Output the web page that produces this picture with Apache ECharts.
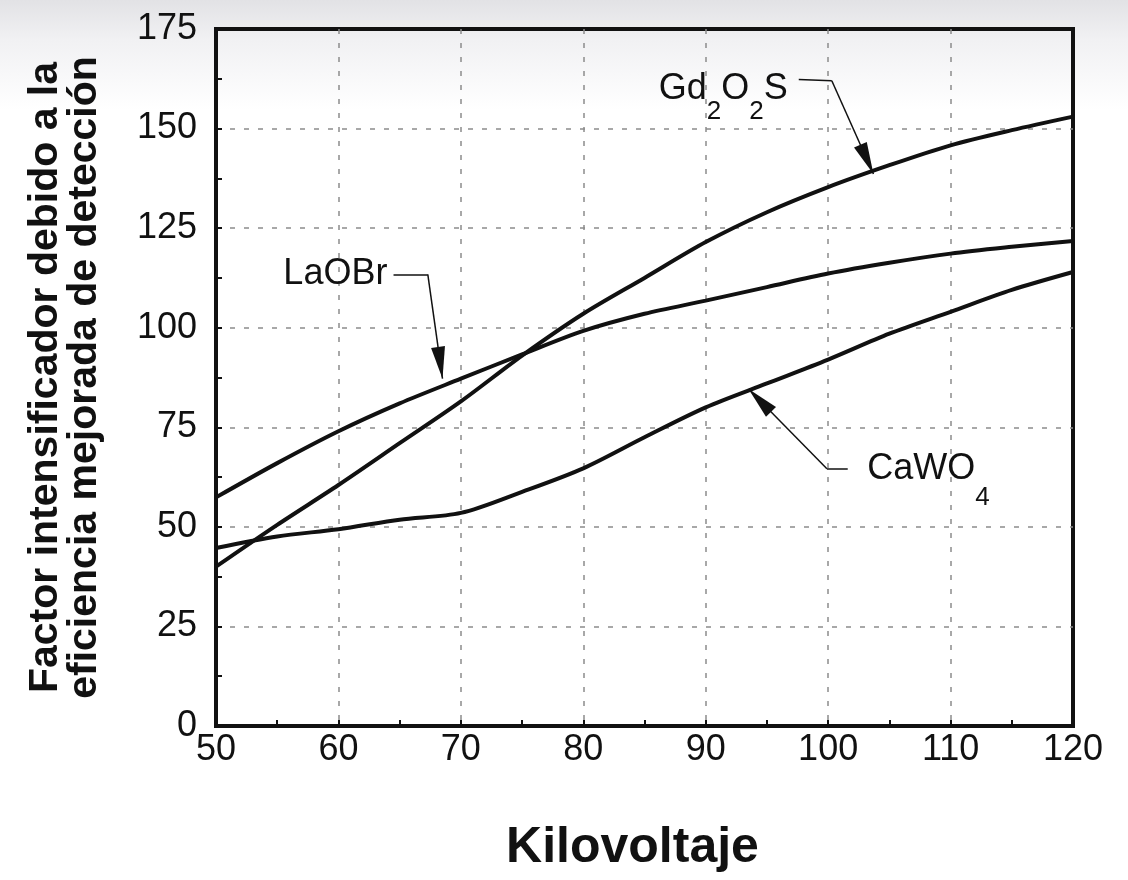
<!DOCTYPE html>
<html>
<head>
<meta charset="utf-8">
<script src="https://cdn.jsdelivr.net/npm/echarts@6/dist/echarts.min.js"></script>
<style>
html,body{margin:0;padding:0;}
body{width:1128px;height:880px;background:linear-gradient(#e2e2e5 0px,#f1f1f3 40px,#ffffff 110px,#ffffff 880px);}
#c{width:1128px;height:880px;}
</style>
</head>
<body>
<div id="c"></div>
<script>
// Kilovoltaje (kVp)
const kv = [50, 55, 60, 65, 70, 75, 80, 85, 90, 95, 100, 105, 110, 115, 120];
// Factor intensificador
const gd2o2s = [40, 50.5, 60.5, 71, 81.5, 93, 103.5, 112.5, 121.5, 129, 135.3, 140.8, 145.8, 149.6, 153];
const laobr  = [57.4, 66, 74, 81, 87.2, 93.3, 99.2, 103.5, 106.8, 110.2, 113.6, 116.3, 118.6, 120.3, 121.8];
const cawo4  = [44.7, 47.6, 49.4, 51.8, 53.5, 58.8, 64.7, 72.5, 80, 86, 92, 98.5, 104, 109.5, 114];
const xTicks = [50, 60, 70, 80, 90, 100, 110, 120];
const yTicks = [0, 25, 50, 75, 100, 125, 150, 175];

// annotation leaders (data coords): start, elbow, arrow tip
const gdLeader = [[97.6, 162.3], [100.3, 162.0], [103.7, 138.6]];
const laLeader = [[64.5, 113.4], [67.3, 113.4], [68.5, 87.2]];
const caLeader = [[101.6, 64.6], [99.9, 64.6], [93.5, 84.6]];
// label anchors
const gdLabelAt = [96.7, 159.8];
const laLabelAt = [64.0, 113.4];
const caLabelAt = [103.2, 64.4];

const FONT = "'Liberation Sans', Arial, Helvetica, sans-serif";
const ink = '#111';

function leader(pts) {
  return {
    silent: true,
    animation: false,
    symbol: ['none', 'none'],
    lineStyle: { color: ink, width: 1.5, type: 'solid' },
    label: { show: false },
    emphasis: { disabled: true },
    data: [
      [{ coord: pts[0] }, { coord: pts[1] }],
      [{ coord: pts[1] }, { coord: pts[2], symbol: 'triangle', symbolSize: [14, 32], symbolOffset: [0, 16] }]
    ]
  };
}
function tag(at, pos, text, rich) {
  return {
    silent: true,
    animation: false,
    symbol: 'circle',
    symbolSize: 0,
    itemStyle: { color: 'rgba(0,0,0,0)' },
    data: [{
      coord: at,
      label: {
        show: true, position: pos, distance: 0,
        formatter: text,
        color: ink, fontFamily: FONT, fontSize: 36,
        rich: rich
      }
    }]
  };
}

const chart = echarts.init(document.getElementById('c'), null, { renderer: 'canvas' });
const tickLabel = { color: ink, fontFamily: FONT, fontSize: 36 };
const grid = { color: '#8c8c8c', width: 1.5, type: [5, 9] };

const option = {
  backgroundColor: 'transparent',
  animation: false,
  grid: { left: 216, right: 55, top: 29, bottom: 154, containLabel: false, outerBoundsMode: 'none',
          show: true, borderColor: ink, borderWidth: 4, backgroundColor: 'transparent' },
  xAxis: {
    type: 'value', min: 50, max: 120, interval: 10,
    name: 'Kilovoltaje', nameLocation: 'middle', nameGap: 97,
    nameTextStyle: { color: ink, fontFamily: FONT, fontSize: 50, fontWeight: 'bold', padding: [0, 24, 0, 0] },
    axisLine: { show: true, lineStyle: { color: ink, width: 4 } },
    axisTick: { show: true, inside: true, length: 6, lineStyle: { color: ink, width: 2 } },
    minorTick: { show: true, splitNumber: 2, length: 6, lineStyle: { color: ink, width: 2 } },
    axisLabel: Object.assign({ margin: 6, formatter: v => xTicks.includes(v) ? String(v) : '' }, tickLabel),
    splitLine: { show: true, showMinLine: false, showMaxLine: false, lineStyle: grid }
  },
  yAxis: {
    type: 'value', min: 0, max: 175, interval: 25,
    name: 'Factor intensificador debido a la\neficiencia mejorada de detección',
    nameLocation: 'middle', nameRotate: 90, nameGap: 112,
    nameTextStyle: { color: ink, fontFamily: FONT, fontSize: 41, fontWeight: 'bold', lineHeight: 39 },
    axisLine: { show: true, lineStyle: { color: ink, width: 4 } },
    axisTick: { show: true, inside: true, length: 6, lineStyle: { color: ink, width: 2 } },
    minorTick: { show: true, splitNumber: 2, length: 6, lineStyle: { color: ink, width: 2 } },
    axisLabel: Object.assign({ margin: 19, padding: [0, 0, 10, 0], formatter: v => yTicks.includes(v) ? String(v) : '' }, tickLabel),
    splitLine: { show: true, showMinLine: false, showMaxLine: false, lineStyle: grid }
  },
  series: [
    {
      name: 'Gd2O2S', type: 'line', data: kv.map((x, i) => [x, gd2o2s[i]]),
      smooth: 0.3, symbol: 'none', lineStyle: { color: ink, width: 4 },
      emphasis: { disabled: true }, z: 3,
      markLine: leader(gdLeader),
      markPoint: tag(gdLabelAt, 'left', 'Gd{s|2}O{s|2}S', {
        m: { fontSize: 36, lineHeight: 36, verticalAlign: 'top' },
        s: { fontSize: 26, lineHeight: 26, padding: [27, 0, 0, 0], verticalAlign: 'top' }
      })
    },
    {
      name: 'LaOBr', type: 'line', data: kv.map((x, i) => [x, laobr[i]]),
      smooth: 0.3, symbol: 'none', lineStyle: { color: ink, width: 4 },
      emphasis: { disabled: true }, z: 3,
      markLine: leader(laLeader),
      markPoint: tag(laLabelAt, 'left', 'LaOBr', {})
    },
    {
      name: 'CaWO4', type: 'line', data: kv.map((x, i) => [x, cawo4[i]]),
      smooth: 0.3, symbol: 'none', lineStyle: { color: ink, width: 4 },
      emphasis: { disabled: true }, z: 3,
      markLine: leader(caLeader),
      markPoint: tag(caLabelAt, 'right', 'CaWO{s|4}', {
        s: { fontSize: 26, lineHeight: 26, padding: [33, 0, 0, 0], verticalAlign: 'top' }
      })
    }
  ]
};
chart.setOption(option);
</script>
</body>
</html>
